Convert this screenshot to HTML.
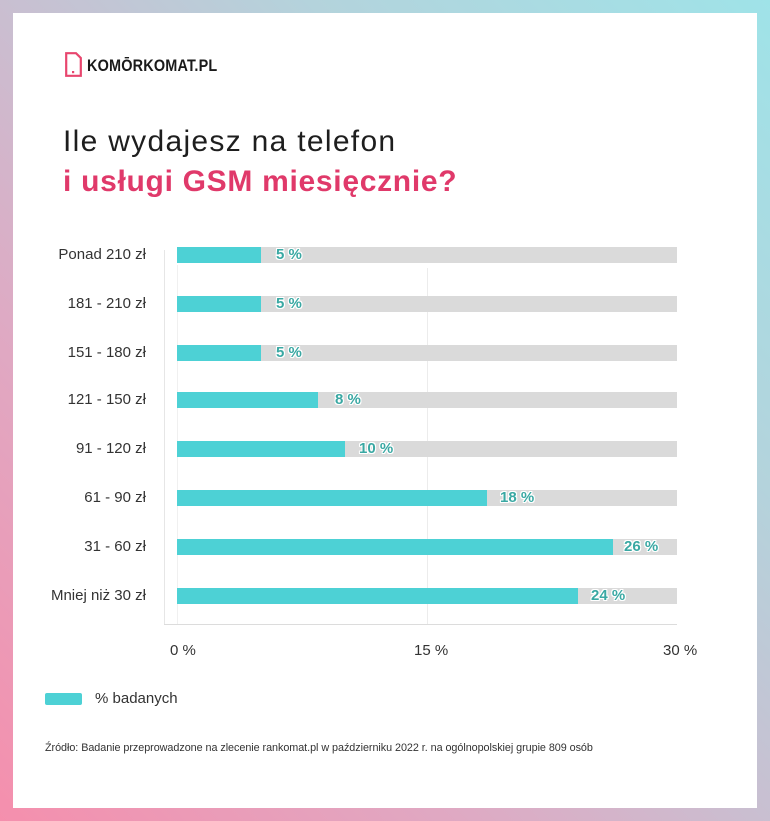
<!DOCTYPE html>
<html>
<head>
<meta charset="utf-8">
<style>
html,body{margin:0;padding:0;}
body{width:770px;height:821px;position:relative;overflow:hidden;
background:linear-gradient(to top right,#f58fad 0%,#dfa9c3 30%,#c9bfd1 50%,#b4d3dc 70%,#9fe3e8 100%);
font-family:"Liberation Sans",sans-serif;}
.card{position:absolute;left:13px;top:13px;width:744px;height:795px;background:#fff;}
.abs{position:absolute;white-space:nowrap;}
.logo-icon{position:absolute;left:65px;top:52px;width:17px;height:25px;}
.logo-text{position:absolute;left:87px;top:56px;font-weight:bold;font-size:17px;color:#1a1a1a;transform:scaleX(0.85);transform-origin:left top;letter-spacing:0.2px;}
.t1{left:63px;top:122px;font-size:30px;color:#1e1e1e;letter-spacing:1.3px;line-height:40px;}
.t2{left:63px;top:162px;font-size:30px;color:#e0396a;font-weight:bold;letter-spacing:0.7px;line-height:40px;}
.ylab{position:absolute;right:624px;font-size:15px;color:#333;line-height:18px;}
.track{position:absolute;left:177px;width:500px;height:16px;background:#dadada;}
.bar{position:absolute;left:177px;height:16px;background:#4dd1d5;}
.val{position:absolute;font-size:15px;font-weight:bold;color:#3aa8a3;line-height:16px;
text-shadow:1px 0 0 #fff,-1px 0 0 #fff,0 1px 0 #fff,0 -1px 0 #fff,1px 1px 0 #fff,-1px -1px 0 #fff,1px -1px 0 #fff,-1px 1px 0 #fff;}
.xl{position:absolute;top:642px;font-size:15px;color:#333;line-height:18px;}
</style>
</head>
<body>
<div class="card"></div>

<svg class="logo-icon" viewBox="0 0 17 25">
<path d="M1.2 1.2 H11 L15.8 6 V23.8 H1.2 Z" fill="none" stroke="#e8466e" stroke-width="2.2"/>
<rect x="7" y="19" width="2.2" height="2.2" fill="#e8466e"/>
</svg>
<div class="logo-text">KOMŌRKOMAT.PL</div>

<div class="abs t1">Ile wydajesz na telefon</div>
<div class="abs t2">i usługi GSM miesięcznie?</div>

<!-- axes / grid -->
<div class="abs" style="left:164px;top:250px;width:1px;height:374px;background:#e6e6e6;"></div>
<div class="abs" style="left:164px;top:624px;width:513px;height:1px;background:#dcdcdc;"></div>
<div class="abs" style="left:177px;top:265px;width:1px;height:359px;background:#f0f0f0;"></div>
<div class="abs" style="left:427px;top:268px;width:1px;height:356px;background:#ececec;"></div>

<!-- rows -->
<div class="ylab" style="top:246px;">Ponad 210 zł</div>
<div class="track" style="top:247px;"></div><div class="bar" style="top:247px;width:84px;"></div>
<div class="val" style="left:276px;top:247px;">5 %</div>

<div class="ylab" style="top:295px;">181 - 210 zł</div>
<div class="track" style="top:296px;"></div><div class="bar" style="top:296px;width:84px;"></div>
<div class="val" style="left:276px;top:296px;">5 %</div>

<div class="ylab" style="top:344px;">151 - 180 zł</div>
<div class="track" style="top:345px;"></div><div class="bar" style="top:345px;width:84px;"></div>
<div class="val" style="left:276px;top:345px;">5 %</div>

<div class="ylab" style="top:391px;">121 - 150 zł</div>
<div class="track" style="top:392px;"></div><div class="bar" style="top:392px;width:141px;"></div>
<div class="val" style="left:335px;top:392px;">8 %</div>

<div class="ylab" style="top:440px;">91 - 120 zł</div>
<div class="track" style="top:441px;"></div><div class="bar" style="top:441px;width:168px;"></div>
<div class="val" style="left:359px;top:441px;">10 %</div>

<div class="ylab" style="top:489px;">61 - 90 zł</div>
<div class="track" style="top:490px;"></div><div class="bar" style="top:490px;width:310px;"></div>
<div class="val" style="left:500px;top:490px;">18 %</div>

<div class="ylab" style="top:538px;">31 - 60 zł</div>
<div class="track" style="top:539px;"></div><div class="bar" style="top:539px;width:436px;"></div>
<div class="val" style="left:624px;top:539px;">26 %</div>

<div class="ylab" style="top:587px;">Mniej niż 30 zł</div>
<div class="track" style="top:588px;"></div><div class="bar" style="top:588px;width:401px;"></div>
<div class="val" style="left:591px;top:588px;">24 %</div>

<!-- x labels -->
<div class="xl" style="left:170px;">0 %</div>
<div class="xl" style="left:414px;">15 %</div>
<div class="xl" style="left:663px;">30 %</div>

<!-- legend -->
<div class="abs" style="left:45px;top:693px;width:37px;height:12px;background:#4dd1d5;border-radius:2px;"></div>
<div class="abs" style="left:95px;top:690px;font-size:15px;color:#333;line-height:18px;">% badanych</div>

<div class="abs" style="left:45px;top:741px;font-size:10.8px;color:#333;line-height:14px;letter-spacing:-0.05px;">Źródło: Badanie przeprowadzone na zlecenie rankomat.pl w październiku 2022 r. na ogólnopolskiej grupie 809 osób</div>
</body>
</html>
